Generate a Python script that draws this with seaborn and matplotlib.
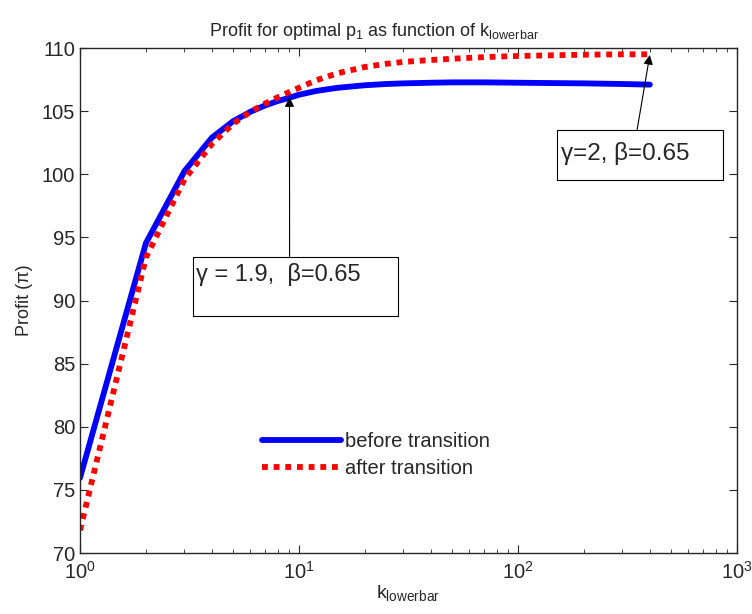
import numpy as np
import pandas as pd
import matplotlib
matplotlib.use("Agg")
import matplotlib.pyplot as plt
import seaborn as sns
from matplotlib.lines import Line2D
from matplotlib.patches import Rectangle

# data
k_vals = [1, 2, 3, 4, 5, 6, 7, 8, 9, 10, 12, 15, 20, 25, 30, 40, 50, 70, 100, 150, 200, 300, 400]
profit_before = [75.95, 94.55, 100.25, 102.9, 104.2, 104.95, 105.45, 105.8, 106.05, 106.3, 106.6,
                 106.85, 107.05, 107.15, 107.2, 107.25, 107.28, 107.28, 107.25, 107.22, 107.2, 107.15, 107.1]
profit_after = [71.8, 93.4, 99.6, 102.4, 104.0, 104.95, 105.6, 106.1, 106.5, 106.85, 107.45,
                108.0, 108.5, 108.75, 108.9, 109.05, 109.15, 109.28, 109.37, 109.43, 109.47, 109.5, 109.5]
series_names = ["before transition", "after transition"]

df = pd.DataFrame({
    "k": k_vals * 2,
    "profit": profit_before + profit_after,
    "series": [series_names[0]] * len(k_vals) + [series_names[1]] * len(k_vals),
})

sns.set_style("ticks")
plt.rcParams["font.family"] = ["Liberation Sans", "DejaVu Sans"]
plt.rcParams["mathtext.fontset"] = "custom"
plt.rcParams["mathtext.rm"] = "Liberation Sans"
plt.rcParams["mathtext.it"] = "Liberation Sans:italic"
plt.rcParams["mathtext.default"] = "regular"

fig = plt.figure(figsize=(7.52, 6.14), dpi=100)
ax = fig.add_axes([0.1064, 0.0993, 0.8736, 0.8225])

sns.lineplot(data=df, x="k", y="profit", hue="series", style="series",
             palette={series_names[0]: "#0000ff", series_names[1]: "#ff0000"},
             dashes={series_names[0]: "", series_names[1]: (1, 1)},
             linewidth=4.2, ax=ax, legend=False)
for ln in ax.get_lines():
    ln.set_dash_capstyle("butt")

ax.set_xscale("log")
ax.set_xlim(1, 1000)
ax.set_ylim(70, 110)
ax.set_yticks(np.arange(70, 111, 5))
ax.tick_params(which="both", direction="in", top=True, right=True, labelsize=14.5)
ax.tick_params(which="major", length=6)
ax.tick_params(which="minor", length=3)
ax.tick_params(axis="x", pad=6)
for s in ax.spines.values():
    s.set_linewidth(1.0)

ax.text(0.447, 1.012, "Profit for optimal p$_1$ as function of k$_{lowerbar}$",
        transform=ax.transAxes, ha="center", va="bottom", fontsize=13)
ax.set_xlabel("k$_{lowerbar}$", fontsize=14, labelpad=0)
ax.set_ylabel("Profit (π)", fontsize=13, labelpad=6)

# legend without frame
handles = [Line2D([], [], color="#0000ff", lw=4.2),
           Line2D([], [], color="#ff0000", lw=4.2, linestyle=(0, (1, 1)), dash_capstyle="butt")]
ax.legend(handles, series_names, frameon=False, fontsize=14.5,
          loc="center left", bbox_to_anchor=(0.25, 0.194), handlelength=3.9,
          handletextpad=0.2, labelspacing=0.4)

# annotation boxes (axes fraction)
ax.add_patch(Rectangle((0.172, 0.470), 0.312, 0.117, transform=ax.transAxes,
                       fc="white", ec="black", lw=0.8, zorder=5))
ax.text(0.176, 0.551, "γ = 1.9,  β=0.65", transform=ax.transAxes, fontsize=17,
        ha="left", va="center", zorder=6)
ax.annotate("", xy=(9.05, 106.1), xytext=(0.319, 0.587),
            textcoords="axes fraction",
            arrowprops=dict(arrowstyle="-|>", color="black", lw=0.8, shrinkA=0, shrinkB=0,
                            mutation_scale=14))

ax.add_patch(Rectangle((0.726, 0.739), 0.253, 0.099, transform=ax.transAxes,
                       fc="white", ec="black", lw=0.8, zorder=5))
ax.text(0.732, 0.791, "γ=2, β=0.65", transform=ax.transAxes, fontsize=17.5,
        ha="left", va="center", zorder=6)
ax.annotate("", xy=(400, 109.45), xytext=(0.848, 0.838),
            textcoords="axes fraction",
            arrowprops=dict(arrowstyle="-|>", color="black", lw=0.8, shrinkA=0, shrinkB=0,
                            mutation_scale=14))

fig.savefig("out.png", dpi=100)
